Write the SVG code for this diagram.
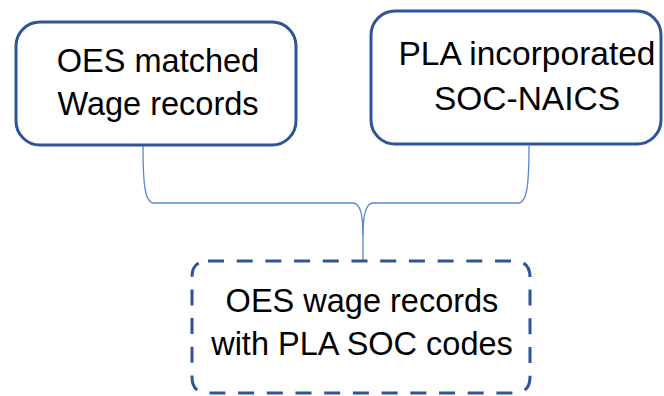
<svg xmlns="http://www.w3.org/2000/svg" width="664" height="396" viewBox="0 0 664 396">
<style>
.box{fill:#fff;stroke:#2F5597;stroke-width:3}
.dash{stroke-dasharray:16 12.7}
.t{font-family:"Liberation Sans",Arial,sans-serif;font-size:32.5px;fill:#000;text-anchor:middle}
.c{fill:none;stroke:#5B87D0;stroke-width:1.3}
</style>
<rect width="664" height="396" fill="#fff"/>
<g id="connectors">
<path class="c" d="M143,146 C143,185 145,203 154,203 L353,203 C360,203 363,215 363,235 L363,261"/>
<path class="c" d="M529,146 C529,185 527,203 518,203 L373,203 C366,203 363,215 363,235"/>
</g>
<g id="node-oes">
<rect class="box" x="16" y="22" width="280" height="123" rx="24"/>
<text class="t" x="158" y="72">OES matched</text>
<text class="t" x="158" y="115">Wage records</text>
</g>
<g id="node-pla">
<rect class="box" x="371" y="11" width="290" height="133" rx="24"/>
<text class="t" x="527" y="65" style="font-size:33.5px">PLA incorporated</text>
<text class="t" x="527" y="110" style="font-size:33.5px">SOC-NAICS</text>
</g>
<g id="node-result">
<path class="box dash" d="M208,261 L514,261 Q530,261 530,277 L530,377 Q530,393 514,393 L208,393 Q192,393 192,377 L192,277 Q192,261 208,261 Z"/>
<text class="t" x="362" y="312">OES wage records</text>
<text class="t" x="362" y="355">with PLA SOC codes</text>
</g>
</svg>
